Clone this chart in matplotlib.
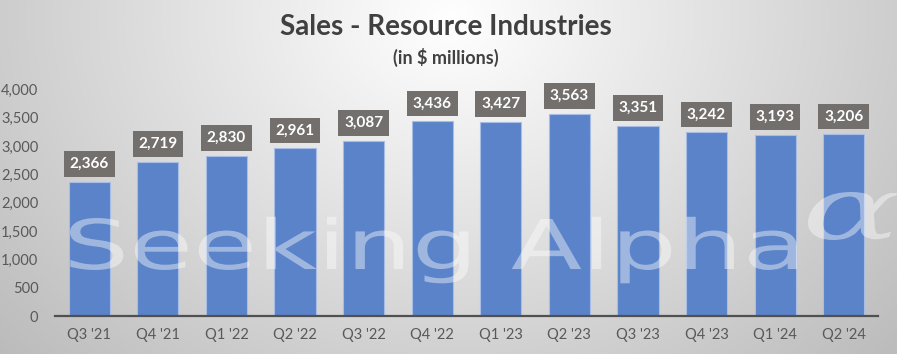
import numpy as np
import matplotlib
matplotlib.use("Agg")
import matplotlib.pyplot as plt
from matplotlib.textpath import TextPath
from matplotlib.patches import PathPatch
from matplotlib.font_manager import FontProperties
from matplotlib.transforms import Affine2D, IdentityTransform

# ---- data ----
quarters = ["Q3 '21", "Q4 '21", "Q1 '22", "Q2 '22", "Q3 '22", "Q4 '22",
            "Q1 '23", "Q2 '23", "Q3 '23", "Q4 '23", "Q1 '24", "Q2 '24"]
sales = [2366, 2719, 2830, 2961, 3087, 3436, 3427, 3563, 3351, 3242, 3193, 3206]
yticks = [0, 500, 1000, 1500, 2000, 2500, 3000, 3500, 4000]
title = "Sales - Resource Industries"
subtitle = "(in $ millions)"
watermark = "Seeking Alpha"
watermark_sym = "\u03b1"

W, H = 900, 357
fig = plt.figure(figsize=(W / 100, H / 100), dpi=100)
fig.patch.set_facecolor("white")

# background radial gradient (chart area)
bg = fig.add_axes([0, 0, 897 / W, 1], zorder=0)
bw, bh = 897, 357
xx, yy = np.meshgrid(np.arange(bw), np.arange(bh))
d = np.sqrt(((xx - 450) / 560.0) ** 2 + ((yy - 20) / 450.0) ** 2)
val = np.clip(255 - 62 * d, 186, 255) / 255.0
img = np.dstack([val, val, val])
img[354:, :, :] = 1.0
bg.imshow(img, aspect="auto", extent=[0, 1, 0, 1], origin="upper")
bg.axis("off")

FONT = ["Lato", "DejaVu Sans"]

ax = fig.add_axes([55 / W, 1 - 316 / H, (878 - 55) / W, (316 - 89.2) / H], zorder=1)
ax.patch.set_alpha(0)
x = np.arange(len(quarters))
ax.bar(x, sales, width=0.6, color="#5A83C9", edgecolor="#A8BDE6", linewidth=0.8, zorder=2)
ax.set_xlim(-0.5, len(quarters) - 0.5)
ax.set_ylim(0, 4000)
ax.set_yticks(yticks)
ax.set_yticklabels([f"{v:,}" for v in yticks], fontsize=10.5, color="#595959", family=FONT)
ax.set_xticks(x)
ax.set_xticklabels(quarters, fontsize=10.5, color="#595959", family=FONT)
ax.tick_params(axis="both", length=0)
ax.tick_params(axis="y", pad=12)
ax.tick_params(axis="x", pad=9)
for s in ["top", "right", "left"]:
    ax.spines[s].set_visible(False)
ax.spines["bottom"].set_color("#505050")
ax.spines["bottom"].set_linewidth(1.6)
ax.spines["bottom"].set_zorder(4)

for xi, v in zip(x, sales):
    ax.annotate(f"{v:,}", (xi, v), xytext=(0, 12.8), textcoords="offset points",
                ha="center", va="center", fontsize=11, fontweight="bold",
                color="white", family=FONT, zorder=5, annotation_clip=False,
                bbox=dict(boxstyle="square,pad=0.38", fc="#736F6D", ec="none"))


# watermark: text paths fitted into pixel boxes (x0, x1, y_top, y_bottom in image px)
def fit_path(text, fam, box, ref_height_text=None, style="normal"):
    fp = FontProperties(family=fam, style=style)
    p = TextPath((0, 0), text, size=100, prop=fp)
    ext = p.get_extents()
    if ref_height_text is not None:
        r = TextPath((0, 0), ref_height_text, size=100, prop=fp).get_extents()
        y0, y1 = r.y0, r.y1
    else:
        y0, y1 = ext.y0, ext.y1
    x0p, x1p, ytop, ybot = box
    sx = (x1p - x0p) / ext.width
    sy = (ybot - ytop) / (y1 - y0)
    tr = (Affine2D().translate(-ext.x0, -y0).scale(sx, sy)
          .translate(x0p, H - ybot) + IdentityTransform())
    patch = PathPatch(p, transform=tr, fc="white", ec="none", alpha=0.42, zorder=3)
    fig.add_artist(patch)


fit_path(watermark, "DejaVu Sans", (70, 797, 218, 270), ref_height_text="S")
fit_path(watermark_sym, "DejaVu Serif", (808, 897, 192, 240), style="italic")

fig.text(446 / W, 1 - 27 / H, title, fontsize=20, fontweight="bold", color="#404040",
         family=FONT, ha="center", va="center")
fig.text(446 / W, 1 - 57 / H, subtitle, fontsize=13, fontweight="bold", color="#404040",
         family=FONT, ha="center", va="center")

fig.savefig("out.png", dpi=100)
